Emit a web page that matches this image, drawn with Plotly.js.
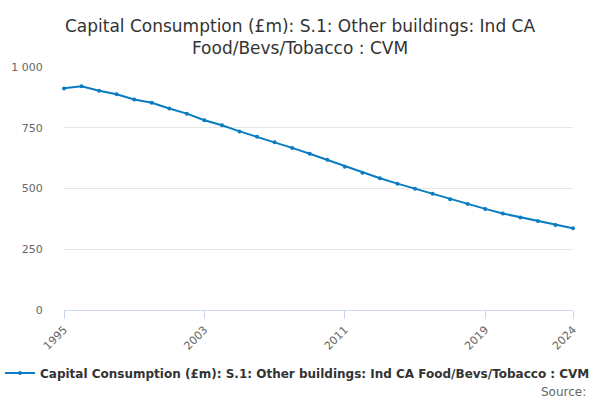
<!DOCTYPE html>
<html>
<head>
<script src="https://cdn.plot.ly/plotly-3.0.1.min.js"></script>
<style>body{margin:0}</style>
</head>
<body>
<div id="chart" style="width:600px;height:400px"></div>
<script>
// years and values
const years = [1995,1996,1997,1998,1999,2000,2001,2002,2003,2004,2005,2006,2007,2008,2009,2010,2011,2012,2013,2014,2015,2016,2017,2018,2019,2020,2021,2022,2023,2024];
const values = [912,921,902,888,866,853,829,808,781,760,735,713,690,667,643,618,590,565,542,520,499,478,456,436,416,397,381,366,350,336];
const tickYears = [1995,2003,2011,2019,2024];
const seriesName = '<b>Capital Consumption (£m): S.1: Other buildings: Ind CA Food/Bevs/Tobacco : CVM</b>';

const font = 'DejaVu Sans, sans-serif';

Plotly.newPlot('chart', [{
  x: years, y: values, name: seriesName,
  type: 'scatter', mode: 'lines+markers', cliponaxis: false,
  line: {color: '#0a7cc1', width: 2},
  marker: {color: '#0a7cc1', size: 4}
}], {
  width: 600, height: 400,
  margin: {l: 64, r: 25, t: 67, b: 89},
  title: {text: 'Capital Consumption (£m): S.1: Other buildings: Ind CA<br>Food/Bevs/Tobacco : CVM',
    font: {family: font, size: 17, color: '#333'}, x: 0.5, xanchor: 'center',
    yref: 'container', y: 0.92, yanchor: 'middle'},
  font: {family: font, color: '#666', size: 11},
  showlegend: true,
  legend: {orientation: 'h', x: 1.03, xanchor: 'right', y: -0.2, yanchor: 'top',
    font: {family: font, size: 12, color: '#333'}},
  xaxis: {range: [1995, 2024], tickvals: tickYears, tickangle: -45,
    ticks: 'outside', ticklen: 8, tickcolor: '#ccd6eb', showgrid: false,
    showline: true, linecolor: '#ccd6eb'},
  yaxis: {range: [0, 1000], tickvals: [0,250,500,750,1000],
    ticktext: ['0','250','500','750','1 000'], gridcolor: '#e6e6e6', zeroline: false,
    ticks: 'outside', ticklen: 18, tickcolor: 'rgba(0,0,0,0)'},
  annotations: [{text: 'Source:', xref: 'paper', yref: 'paper', x: 1.03, xanchor: 'right',
    y: -0.3, yanchor: 'top', showarrow: false, font: {family: font, size: 12, color: '#666'}}]
}, {displayModeBar: false});
</script>
</body>
</html>
